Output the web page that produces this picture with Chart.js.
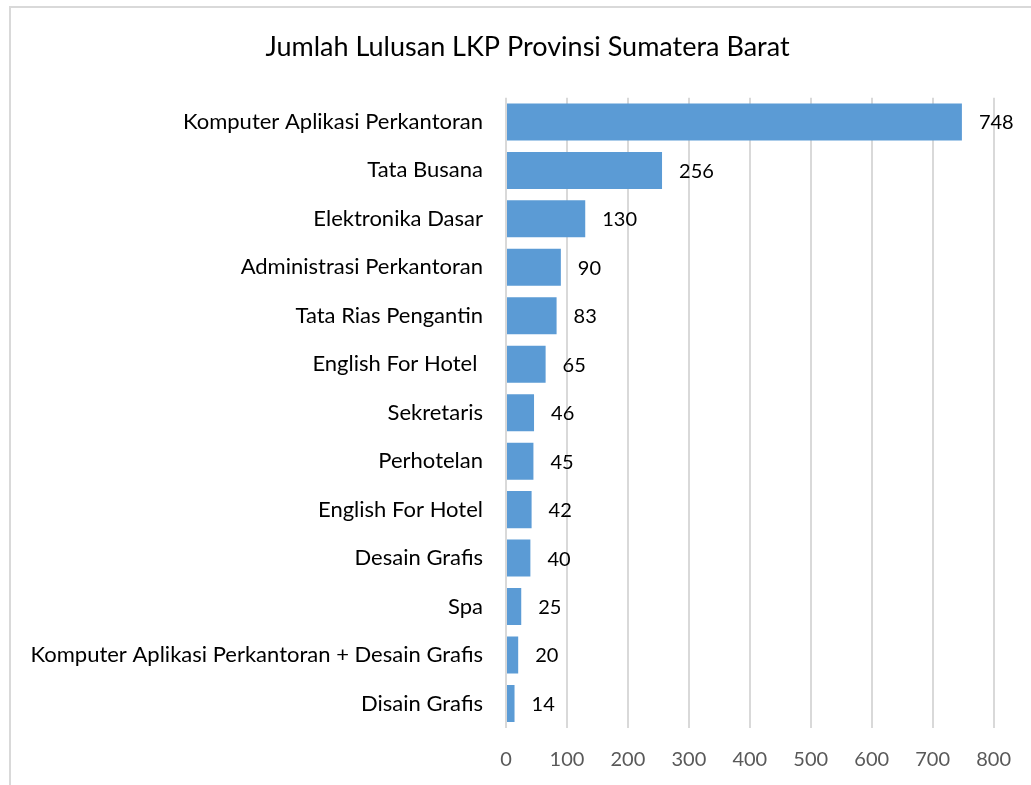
<!DOCTYPE html>
<html><head><meta charset="utf-8">
<script src="https://cdn.jsdelivr.net/npm/chart.js@4"></script>
<style>html,body{margin:0;padding:0;background:#fff;}canvas{display:block}</style>
</head><body>
<canvas id="c" width="1031" height="785"></canvas>
<script>
const titleText = "Jumlah Lulusan LKP Provinsi Sumatera Barat";
const categories = [
  "Komputer Aplikasi Perkantoran",
  "Tata Busana",
  "Elektronika Dasar",
  "Administrasi Perkantoran",
  "Tata Rias Pengantin",
  "English For Hotel ",
  "Sekretaris",
  "Perhotelan",
  "English For Hotel",
  "Desain Grafis",
  "Spa",
  "Komputer Aplikasi Perkantoran + Desain Grafis",
  "Disain Grafis"
];
const values = [748, 256, 130, 90, 83, 65, 46, 45, 42, 40, 25, 20, 14];
const xMin = 0, xMax = 800, xStep = 100;

const FONT = "Lato";

const framePlugin = {
  id: 'frame',
  beforeDraw(chart) {
    const ctx = chart.ctx;
    ctx.save();
    ctx.fillStyle = '#fff';
    ctx.fillRect(0, 0, chart.width, chart.height);
    ctx.strokeStyle = '#d9d9d9';
    ctx.lineWidth = 2;
    ctx.beginPath();
    ctx.moveTo(10, chart.height);
    ctx.lineTo(10, 7);
    ctx.lineTo(chart.width, 7);
    ctx.stroke();
    // chart title (centred on the original chart frame)
    ctx.fillStyle = '#000';
    ctx.font = '27px ' + FONT;
    ctx.textAlign = 'center';
    ctx.textBaseline = 'middle';
    ctx.fillText(titleText, 527.5, 47);
    ctx.restore();
  }
};

const dataLabels = {
  id: 'dataLabels',
  afterDatasetsDraw(chart) {
    const ctx = chart.ctx;
    const meta = chart.getDatasetMeta(0);
    ctx.save();
    ctx.font = '20px ' + FONT;
    ctx.fillStyle = '#000';
    ctx.textAlign = 'left';
    ctx.textBaseline = 'middle';
    meta.data.forEach((bar, i) => {
      ctx.fillText(String(values[i]), bar.x + 17, bar.y + 1);
    });
    ctx.restore();
  }
};

new Chart(document.getElementById('c'), {
  type: 'bar',
  data: {
    labels: categories,
    datasets: [{
      data: values,
      backgroundColor: '#5b9bd5',
      borderWidth: 0,
      categoryPercentage: 1,
      barPercentage: 0.764
    }]
  },
  options: {
    indexAxis: 'y',
    responsive: false,
    animation: false,
    layout: { padding: { left: 0, right: 35, top: 97.7, bottom: 0 } },
    plugins: {
      legend: { display: false },
      tooltip: { enabled: false },
      title: { display: false }
    },
    scales: {
      x: {
        min: xMin, max: xMax,
        ticks: { stepSize: xStep, color: '#595959', font: { family: FONT, size: 20 }, padding: 20 },
        grid: { color: '#d9d9d9', lineWidth: 2, drawTicks: false },
        border: { display: false },
        afterFit(s) { s.height = 57.3; }
      },
      y: {
        ticks: { color: '#000', font: { family: FONT, size: 22 }, padding: 23, autoSkip: false },
        grid: { display: false, drawTicks: false },
        border: { display: false },
        afterFit(s) { s.width = 506; }
      }
    }
  },
  plugins: [framePlugin, dataLabels]
});
</script>
</body></html>
